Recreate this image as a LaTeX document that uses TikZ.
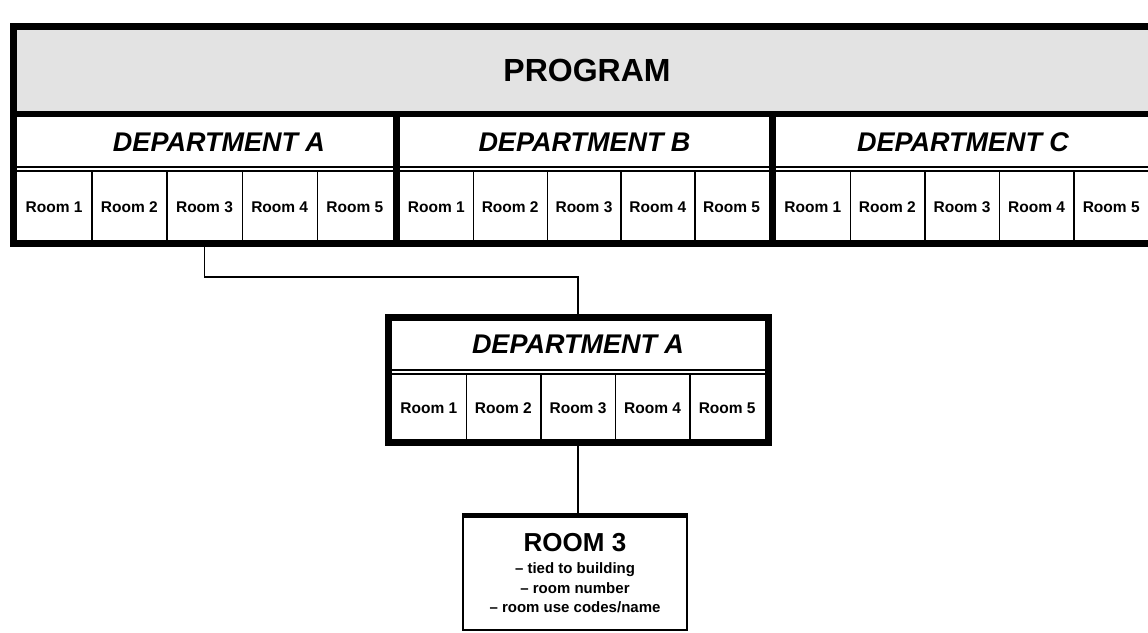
\documentclass[tikz,border=0pt]{standalone}
\usepackage{fontspec}
\setmainfont{Liberation Sans}
\begin{document}
\begin{tikzpicture}[x=1pt,y=-1pt,
  frameline/.style={line width=7pt},
  cellline/.style={line width=1.5pt},
  dblline/.style={line width=1.2pt},
  conn/.style={line width=1.5pt},
  roomcell/.style={inner sep=0pt, minimum height=69pt, font=\bfseries\fontsize{15.5}{18}\selectfont},
  depthead/.style={inner sep=0pt, font=\bfseries\itshape\fontsize{27}{31}\selectfont},
  progtext/.style={inner sep=0pt, font=\bfseries\fontsize{32}{36}\selectfont},
  r3title/.style={inner sep=0pt, font=\bfseries\fontsize{26}{30}\selectfont},
  r3line/.style={inner sep=0pt, font=\bfseries\fontsize{15}{17}\selectfont}]
\useasboundingbox (0,0) rectangle (1148,632);
\clip (0,0) rectangle (1148,632);
% ---------------- top program box ----------------
\fill[black!11] (13,26) rectangle (1170,114);
\draw[dblline] (13,167) -- (1170,167);
\draw[dblline] (13,171) -- (1170,171);
\foreach \i in {1,...,5} {
  \node[roomcell, minimum width=75.2pt] (A\i) at ({16.5+(\i-0.5)*75.2},207) {Room \i};
  \node[roomcell, minimum width=73.8pt] (B\i) at ({399.5+(\i-0.5)*73.8},207) {Room \i};
  \node[roomcell, minimum width=74.6pt] (C\i) at ({775.5+(\i-0.5)*74.6},207) {Room \i};
}
\coordinate (topdiv) at (0,171);
\coordinate (topbot) at (0,243);
\foreach \i in {1,...,4} {
  \draw[cellline] (A\i.east |- topdiv) -- (A\i.east |- topbot);
  \draw[cellline] (B\i.east |- topdiv) -- (B\i.east |- topbot);
}
\foreach \i in {1,...,5} {
  \draw[cellline] (C\i.east |- topdiv) -- (C\i.east |- topbot);
}
\draw[frameline] (13,26) rectangle (1170,243);
\draw[line width=6pt] (13,114) -- (1170,114);
\draw[frameline] (396,114) -- (396,243);
\draw[frameline] (772,114) -- (772,243);
\node[progtext] (PR) at (587,70) {PROGRAM};
\node[depthead] (DA) at (219,142) {DEPARTMENT A};
\node[depthead] (DB) at (584.5,142) {DEPARTMENT B};
\node[depthead] (DC) at (963,142) {DEPARTMENT C};
% ---------------- department A detail ----------------
\node[draw, frameline, inner sep=0pt, minimum width=380pt, minimum height=125pt] (LF) at (578,379.5) {};
\draw[dblline] (388,370) -- (768,370);
\draw[dblline] (388,374) -- (768,374);
\foreach \i in {1,...,5} {
  \node[roomcell, minimum width=74.6pt, minimum height=66pt] (L\i) at ({391.5+(\i-0.5)*74.6},408) {Room \i};
}
\coordinate (lowdiv) at (0,374);
\coordinate (lowbot) at (0,442);
\foreach \i in {1,...,4} {
  \draw[cellline] (L\i.east |- lowdiv) -- (L\i.east |- lowbot);
}
\node[depthead] (LDA) at (578,344) {DEPARTMENT A};
% ---------------- room 3 detail ----------------
\node[draw, line width=2.5pt, inner sep=0pt, minimum width=224pt, minimum height=113pt] (R3) at (575,573.5) {};
\draw[line width=5pt] (R3.north west) -- (R3.north east);
\node[r3title] (R3t) at (575,543) {ROOM 3};
\node[r3line] (R3a) at (575,570) {– tied to building};
\node[r3line] (R3b) at (575,588.5) {– room number};
\node[r3line] (R3c) at (575,607) {– room use codes/name};
% ---------------- connectors ----------------
\coordinate (lvl) at (0,277);
\coordinate (elb) at (LF.north |- lvl);
\draw[conn] (A3.south) |- (elb) -- (LF.north);
\draw[conn] (L3.south) -- (L3.south |- R3.north);
\end{tikzpicture}
\end{document}
